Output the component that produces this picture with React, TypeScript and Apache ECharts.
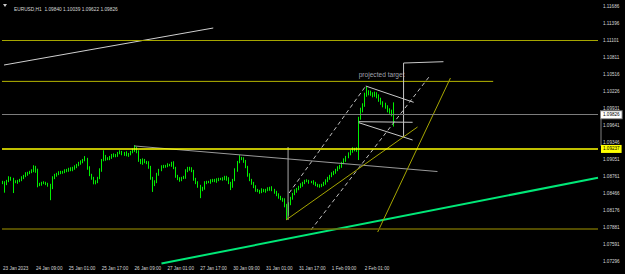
import React, { useEffect, useRef } from 'react';
import * as echarts from 'echarts';

const symbolName = 'EURUSD,H1';
const lastOHLC = [1.0984, 1.10039, 1.09622, 1.09826];
const firstOpen = 1.08668;

const closes = [
  1.08651, 1.08634, 1.08685, 1.08737, 1.0872, 1.08668, 1.08668, 1.08685, 1.08702, 1.08737,
  1.08771, 1.08806, 1.08823, 1.0884, 1.08857, 1.08926, 1.08857, 1.08617, 1.08634, 1.08651,
  1.08651, 1.08634, 1.08617, 1.08565, 1.08737, 1.08789, 1.08806, 1.08823, 1.0884, 1.0884,
  1.08857, 1.08874, 1.08892, 1.08874, 1.08909, 1.08926, 1.0896, 1.08995, 1.09011, 1.09045,
  1.09064, 1.08909, 1.08789, 1.08737, 1.08668, 1.08668, 1.08737, 1.08874, 1.09045, 1.09114,
  1.09064, 1.09064, 1.09097, 1.09131, 1.09114, 1.09131, 1.09166, 1.09183, 1.09148, 1.09166,
  1.09131, 1.09148, 1.09183, 1.09217, 1.09253, 1.09183, 1.09045, 1.08995, 1.09045, 1.09011,
  1.08995, 1.08926, 1.08737, 1.08617, 1.08668, 1.08806, 1.08874, 1.08926, 1.08943, 1.08943,
  1.0896, 1.0896, 1.08995, 1.08909, 1.08771, 1.0872, 1.08702, 1.08737, 1.08754, 1.08857,
  1.08909, 1.08892, 1.08857, 1.0872, 1.08651, 1.08599, 1.0853, 1.08565, 1.08651, 1.08668,
  1.08668, 1.08685, 1.08702, 1.08685, 1.08702, 1.0872, 1.0872, 1.0872, 1.08754, 1.0872,
  1.08651, 1.08599, 1.08702, 1.08874, 1.09011, 1.0908, 1.09064, 1.09028, 1.08926, 1.08789,
  1.08702, 1.08651, 1.08582, 1.0853, 1.08513, 1.08496, 1.0853, 1.08513, 1.0853, 1.08547,
  1.08565, 1.0853, 1.08496, 1.08444, 1.0841, 1.08375, 1.08358, 1.08272, 1.08117, 1.08289,
  1.08393, 1.08461, 1.08513, 1.08547, 1.08582, 1.08617, 1.08651, 1.08685, 1.08685, 1.08668,
  1.08668, 1.08651, 1.08617, 1.08599, 1.08599, 1.08617, 1.08651, 1.08685, 1.08737, 1.08771,
  1.08806, 1.0884, 1.08874, 1.08909, 1.08943, 1.08995, 1.09045, 1.09097, 1.09148, 1.09201,
  1.09236, 1.09217, 1.09236, 1.0977, 1.09907, 1.09993, 1.10165, 1.10217, 1.102, 1.10183,
  1.10165, 1.10183, 1.10148, 1.10079, 1.10028, 1.09993, 1.09959, 1.09907, 1.09873, 1.09838,
  1.09826,
];

// wick lengths in pips above max(open, close) and below min(open, close)
const wickUp = [
  2, 3, 2, 3, 2, 2, 3, 2, 2, 3,
  2, 3, 2, 2, 3, 3, 2, 4, 2, 2,
  3, 2, 2, 2, 3, 2, 2, 3, 2, 2,
  3, 2, 2, 3, 2, 3, 2, 2, 3, 2,
  5, 2, 3, 2, 2, 3, 2, 3, 2, 10,
  2, 3, 2, 2, 3, 2, 2, 3, 2, 2,
  3, 2, 2, 3, 5, 2, 3, 2, 3, 2,
  2, 3, 2, 2, 3, 2, 2, 3, 2, 2,
  3, 2, 2, 3, 2, 2, 3, 2, 2, 3,
  2, 2, 3, 2, 2, 3, 2, 2, 3, 2,
  2, 3, 2, 2, 3, 2, 2, 3, 2, 2,
  3, 2, 2, 3, 2, 5, 2, 3, 2, 2,
  3, 2, 2, 3, 2, 2, 3, 2, 2, 3,
  2, 3, 2, 2, 3, 2, 2, 3, 2, 3,
  2, 2, 3, 2, 2, 3, 2, 2, 3, 2,
  2, 3, 2, 2, 3, 2, 2, 3, 2, 2,
  3, 2, 2, 3, 2, 2, 3, 2, 3, 2,
  3, 2, 3, 2, 4, 3, 4, 9, 3, 4,
  3, 4, 3, 3, 4, 3, 4, 3, 3, 4,
  20,
];
const wickDown = [
  2, 15, 2, 2, 3, 19, 2, 3, 2, 2,
  2, 2, 3, 2, 2, 2, 3, 4, 2, 3,
  2, 2, 3, 21, 2, 2, 3, 2, 2, 3,
  2, 2, 3, 2, 2, 3, 2, 2, 3, 2,
  2, 3, 2, 3, 4, 4, 2, 2, 3, 2,
  3, 2, 2, 3, 2, 2, 3, 2, 2, 3,
  2, 3, 2, 2, 3, 2, 3, 2, 3, 2,
  2, 3, 3, 12, 2, 2, 3, 2, 2, 3,
  2, 2, 3, 2, 3, 2, 3, 2, 2, 3,
  2, 3, 2, 3, 2, 3, 14, 2, 3, 2,
  2, 3, 2, 2, 3, 2, 2, 3, 2, 3,
  2, 7, 3, 2, 3, 2, 2, 3, 2, 3,
  2, 3, 2, 3, 2, 3, 2, 2, 3, 2,
  3, 2, 3, 2, 3, 2, 3, 4, 10, 3,
  2, 3, 2, 3, 2, 2, 3, 2, 2, 3,
  2, 3, 2, 2, 3, 2, 2, 3, 2, 3,
  2, 2, 3, 2, 2, 3, 2, 3, 2, 2,
  3, 2, 3, 19, 3, 4, 3, 3, 4, 3,
  4, 3, 4, 3, 3, 4, 3, 4, 3, 4,
  20,
];

const timeLabels = [
  '23 Jan 2023', '24 Jan 09:00', '25 Jan 01:00', '25 Jan 17:00', '26 Jan 09:00', '27 Jan 01:00',
  '27 Jan 17:00', '30 Jan 09:00', '31 Jan 01:00', '31 Jan 17:00', '1 Feb 09:00', '2 Feb 01:00',
];
const barsPerLabel = 16;
const totalSlots = 290;

const priceTicks = [
  1.11686, 1.11396, 1.11101, 1.10811, 1.10516, 1.10226, 1.09931, 1.09641,
  1.09346, 1.09051, 1.08761, 1.08466, 1.08176, 1.07881, 1.07591, 1.07296,
];
const priceMin = 1.07222;
const priceMax = 1.11801;

// horizontal levels
const levelUpperOlive = 1.11101;
const levelTarget = 1.104;
const levelTargetSpan = [-0.5, 238.5];
const levelYellow = 1.09237;
const levelBottomOlive = 1.0786;
const bidPrice = 1.09826;

// trend lines: [bar index, price]
const whiteTrend = [[0.5, 1.10682], [102.3, 1.11319]];
const greyTrend = [[64, 1.09288], [211.4, 1.08848]];
const poleLine = [[138.7, 1.0927], [138.7, 1.08014]];
const targetLine = [[194.9, 1.09442], [194.9, 1.10716], [214.3, 1.10739]];
const greenTrend = [[77.1, 1.07265], [289.5, 1.08742]];
const flagUpper = [[176.5, 1.1032], [199.8, 1.1004]];
const flagMid = [[173.1, 1.09706], [199.3, 1.09696]];
const flagLower = [[173.1, 1.09689], [199.3, 1.09391]];
const channelDash1 = [[139.2, 1.08478], [176.5, 1.1032]];
const channelDash2 = [[149.8, 1.07841], [208, 1.1051]];
const oliveTrendA = [[137.7, 1.08014], [201.7, 1.09615]];
const oliveTrendB = [[182.3, 1.07807], [217.7, 1.10458]];
const targetTextAt = [184.2, 1.1051];

const FONT = 'Liberation Sans';

export default function App() {
  const ref = useRef<HTMLDivElement>(null);
  useEffect(() => {
    if (!ref.current) return;
    const chart = echarts.init(ref.current, undefined, { renderer: 'svg' });

    const candles = closes.map((c, i) => {
      const isLast = i === closes.length - 1;
      const o = isLast ? lastOHLC[0] : i === 0 ? firstOpen : closes[i - 1];
      const hi = isLast ? lastOHLC[1] : Math.max(o, c) + wickUp[i] * 0.0001;
      const lo = isLast ? lastOHLC[2] : Math.min(o, c) - wickDown[i] * 0.0001;
      return [o, c, lo, hi];
    });

    const cats = Array.from({ length: totalSlots }, (_, i) => String(i));

    const trend = (data: number[][], color: string, width = 1, type: any = 'solid') => ({
      type: 'line',
      xAxisIndex: 1,
      yAxisIndex: 0,
      data,
      symbol: 'none',
      showSymbol: false,
      silent: true,
      z: 3,
      lineStyle: { color, width, type },
    });

    const option: any = {
      animation: false,
      backgroundColor: '#000000',
      title: {
        text: `${symbolName}  ${lastOHLC.map((v) => v.toFixed(5)).join(' ')}`,
        left: 9,
        top: 2,
        textStyle: { color: '#d8d8d8', fontSize: 4.8, fontWeight: 'normal', fontFamily: FONT },
      },
      graphic: [
        { type: 'polygon', shape: { points: [[3, 4], [7, 4], [5, 7]] }, style: { fill: '#c8c8c8' } },
        { type: 'line', shape: { x1: 601, y1: 114, x2: 601, y2: 146 }, style: { stroke: '#808080', lineWidth: 1 } },
      ],
      grid: { left: 0, top: 0, width: 598, height: 266 },
      xAxis: [
        {
          type: 'category',
          data: cats,
          boundaryGap: true,
          axisLine: { show: false },
          axisTick: { show: false },
          splitLine: { show: false },
          axisLabel: {
            interval: barsPerLabel - 1,
            align: 'left',
            margin: 0,
            color: '#d8d8d8',
            fontSize: 4.6,
            fontFamily: FONT,
            showMaxLabel: false,
            hideOverlap: false,
            formatter: (_v: string, idx: number) => timeLabels[idx / barsPerLabel] ?? '',
          },
        },
        { type: 'value', show: false, min: -0.5, max: totalSlots - 0.5 },
      ],
      yAxis: {
        type: 'value',
        position: 'right',
        min: priceMin,
        max: priceMax,
        axisLine: { show: false },
        axisTick: { show: false },
        splitLine: { show: false },
        axisLabel: {
          customValues: priceTicks,
          formatter: (v: number) => v.toFixed(5),
          color: '#d8d8d8',
          fontSize: 4.6,
          fontFamily: FONT,
          margin: 5,
        },
      },
      series: [
        {
          type: 'candlestick',
          xAxisIndex: 0,
          yAxisIndex: 0,
          data: candles,
          barWidth: 1.2,
          z: 2,
          itemStyle: {
            color: '#00b000',
            color0: '#a8ffa8',
            borderColor: '#00f000',
            borderColor0: '#00f000',
            borderWidth: 1,
          },
          markLine: {
            silent: true,
            symbol: ['none', 'none'],
            precision: 5,
            animation: false,
            data: [
              { yAxis: levelUpperOlive, lineStyle: { color: '#a6a600', width: 1, type: 'solid' }, label: { show: false } },
              { yAxis: levelBottomOlive, lineStyle: { color: '#6e6600', width: 1.5, type: 'solid' }, label: { show: false } },
              {
                yAxis: bidPrice,
                lineStyle: { color: '#7c7c7c', width: 1, type: 'solid' },
                label: {
                  show: true,
                  position: 'end',
                  distance: 3,
                  formatter: bidPrice.toFixed(5),
                  color: '#000000',
                  backgroundColor: '#ffffff',
                  borderColor: '#808080',
                  borderWidth: 1,
                  padding: [1, 2],
                  fontSize: 4.6,
                  fontFamily: FONT,
                },
              },
              {
                yAxis: levelYellow,
                lineStyle: { color: '#ffff00', width: 1.5, type: 'solid' },
                label: {
                  show: true,
                  position: 'end',
                  distance: 3,
                  formatter: levelYellow.toFixed(5),
                  color: '#000000',
                  backgroundColor: '#ffff00',
                  padding: [1.5, 2],
                  fontSize: 4.6,
                  fontFamily: FONT,
                },
              },
            ],
          },
        },
        trend([[levelTargetSpan[0], levelTarget], [levelTargetSpan[1], levelTarget]], '#b4b400', 1),
        trend(whiteTrend, '#d0d0d0', 1),
        trend(greyTrend, '#9a9a9a', 1),
        trend(poleLine, '#a8a8a8', 1),
        trend(targetLine, '#c8c8c8', 1),
        trend(greenTrend, '#00e878', 2),
        trend(flagUpper, '#c8c8c8', 1),
        trend(flagMid, '#c8c8c8', 1),
        trend(flagLower, '#c8c8c8', 1),
        trend(channelDash1, '#c0c0c0', 1, [4, 3]),
        trend(channelDash2, '#c0c0c0', 1, [4, 3]),
        trend(oliveTrendA, '#a6a600', 1),
        trend(oliveTrendB, '#a6a600', 1),
        {
          type: 'scatter',
          xAxisIndex: 1,
          yAxisIndex: 0,
          data: [targetTextAt],
          symbolSize: 0,
          silent: true,
          label: {
            show: true,
            position: 'inside',
            formatter: 'projected target',
            color: '#c8ccd8',
            fontSize: 6.6,
            fontFamily: FONT,
          },
        },
      ],
    };
    chart.setOption(option);
    return () => chart.dispose();
  }, []);
  return <div ref={ref} style={{ position: 'fixed', left: 0, top: 0, width: 625, height: 274 }} />;
}
